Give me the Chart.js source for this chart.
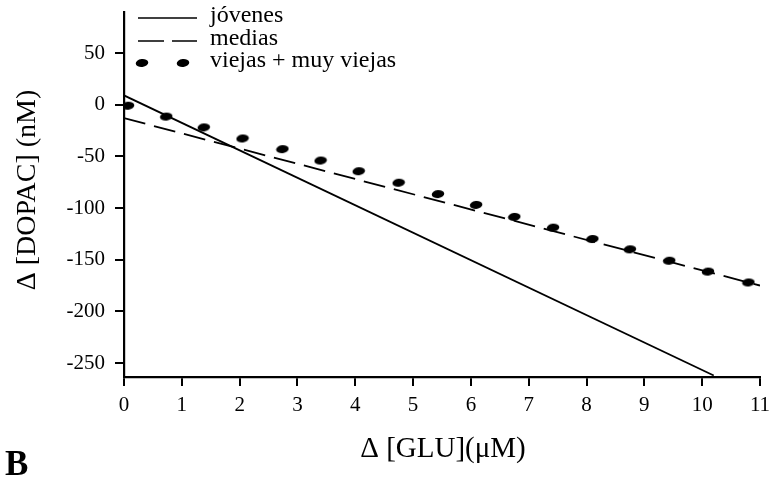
<!DOCTYPE html>
<html>
<head>
<meta charset="utf-8">
<script src="https://cdn.jsdelivr.net/npm/chart.js@4/dist/chart.umd.min.js"></script>
<style>
  html, body { margin: 0; padding: 0; background: #fff; }
  #wrap { width: 771px; height: 478px; position: relative; }
</style>
</head>
<body>
<div id="wrap"><canvas id="chart"></canvas></div>
<script>
// data
var jovenesX = [0, 10.2];
var jovenesY = [9, -262];
var mediasX = [0, 11];
var mediasY = [-13, -175];
var viejasX = [0.07, 0.73, 1.38, 2.05, 2.74, 3.4, 4.06, 4.75, 5.43, 6.09, 6.75, 7.42, 8.1, 8.75, 9.43, 10.1, 10.8];
var viejasY = [-1, -11.5, -22, -32.7, -43, -54, -64.4, -75.5, -86.5, -97, -108.6, -119, -130, -140, -151, -161.5, -172];
var xTicks = [0, 1, 2, 3, 4, 5, 6, 7, 8, 9, 10, 11];
var yTicks = [-250, -200, -150, -100, -50, 0, 50];
var seriesNames = ["jóvenes", "medias", "viejas + muy viejas"];

function pts(xs, ys) {
  return xs.map(function (x, i) { return { x: x, y: ys[i] }; });
}

// elliptical blob used for the dotted series
var dot = document.createElement('canvas');
dot.width = 14; dot.height = 10;
var dc = dot.getContext('2d');
dc.fillStyle = '#000';
dc.beginPath();
dc.ellipse(7, 5, 6.3, 4, -0.12, 0, Math.PI * 2);
dc.fill();

var serif = "'Liberation Serif', 'DejaVu Serif', serif";

var extras = {
  id: 'extras',
  afterDraw: function (chart) {
    var ctx = chart.ctx;
    ctx.save();
    ctx.fillStyle = '#000';
    ctx.strokeStyle = '#000';
    // legend
    ctx.font = '24px ' + serif;
    ctx.textBaseline = 'middle';
    ctx.textAlign = 'left';
    var ly = [18, 41, 63];
    ctx.lineWidth = 1.6;
    ctx.beginPath(); ctx.moveTo(138, ly[0]); ctx.lineTo(197, ly[0]); ctx.stroke();
    ctx.setLineDash([26, 8]);
    ctx.beginPath(); ctx.moveTo(138, ly[1]); ctx.lineTo(197, ly[1]); ctx.stroke();
    ctx.setLineDash([]);
    ctx.drawImage(dot, 135, ly[2] - 5);
    ctx.drawImage(dot, 176, ly[2] - 5);
    for (var i = 0; i < seriesNames.length; i++) {
      ctx.fillText(seriesNames[i], 210, ly[i] - 2);
    }
    // axis titles
    ctx.font = '29px ' + serif;
    ctx.textAlign = 'center';
    ctx.textBaseline = 'alphabetic';
    ctx.fillText('\u0394 [GLU](\u03bcM)', 443, 457);
    ctx.save();
    ctx.translate(35, 190);
    ctx.rotate(-Math.PI / 2);
    ctx.font = '28px ' + serif;
    ctx.fillText('\u0394 [DOPAC] (nM)', 0, 0);
    ctx.restore();
    // panel letter
    ctx.font = 'bold 35px ' + serif;
    ctx.textAlign = 'left';
    ctx.fillText('B', 5, 475);
    ctx.restore();
  }
};

new Chart(document.getElementById('chart'), {
  type: 'scatter',
  data: {
    datasets: [
      {
        label: seriesNames[0],
        data: pts(jovenesX, jovenesY),
        showLine: true,
        borderColor: '#000',
        borderWidth: 1.8,
        pointRadius: 0
      },
      {
        label: seriesNames[1],
        data: pts(mediasX, mediasY),
        showLine: true,
        borderColor: '#000',
        borderWidth: 1.8,
        borderDash: [22, 9],
        pointRadius: 0
      },
      {
        label: seriesNames[2],
        data: pts(viejasX, viejasY),
        showLine: false,
        pointStyle: dot,
        pointRadius: 6
      }
    ]
  },
  options: {
    responsive: true,
    maintainAspectRatio: false,
    animation: false,
    layout: { padding: { top: 12, right: 11, left: 0, bottom: 0 } },
    plugins: {
      legend: { display: false },
      tooltip: { enabled: false }
    },
    scales: {
      x: {
        type: 'linear',
        min: 0,
        max: 11,
        afterBuildTicks: function (s) { s.ticks = xTicks.map(function (v) { return { value: v }; }); },
        afterFit: function (s) { s.height = 101; s.paddingLeft = 0; s.paddingRight = 0; },
        grid: { drawOnChartArea: false, tickLength: 9, color: '#000', lineWidth: 2 },
        border: { color: '#000', width: 2.2 },
        ticks: { color: '#000', font: { family: serif, size: 21 }, padding: 7 }
      },
      y: {
        min: -263.5,
        max: 89.7,
        afterBuildTicks: function (s) { s.ticks = yTicks.map(function (v) { return { value: v }; }); },
        afterFit: function (s) { s.width = 124; s.paddingTop = 0; s.paddingBottom = 0; },
        grid: { drawOnChartArea: false, tickLength: 9, color: '#000', lineWidth: 2 },
        border: { color: '#000', width: 2.2 },
        ticks: { color: '#000', font: { family: serif, size: 21 }, padding: 10 }
      }
    }
  },
  plugins: [extras]
});
</script>
</body>
</html>
